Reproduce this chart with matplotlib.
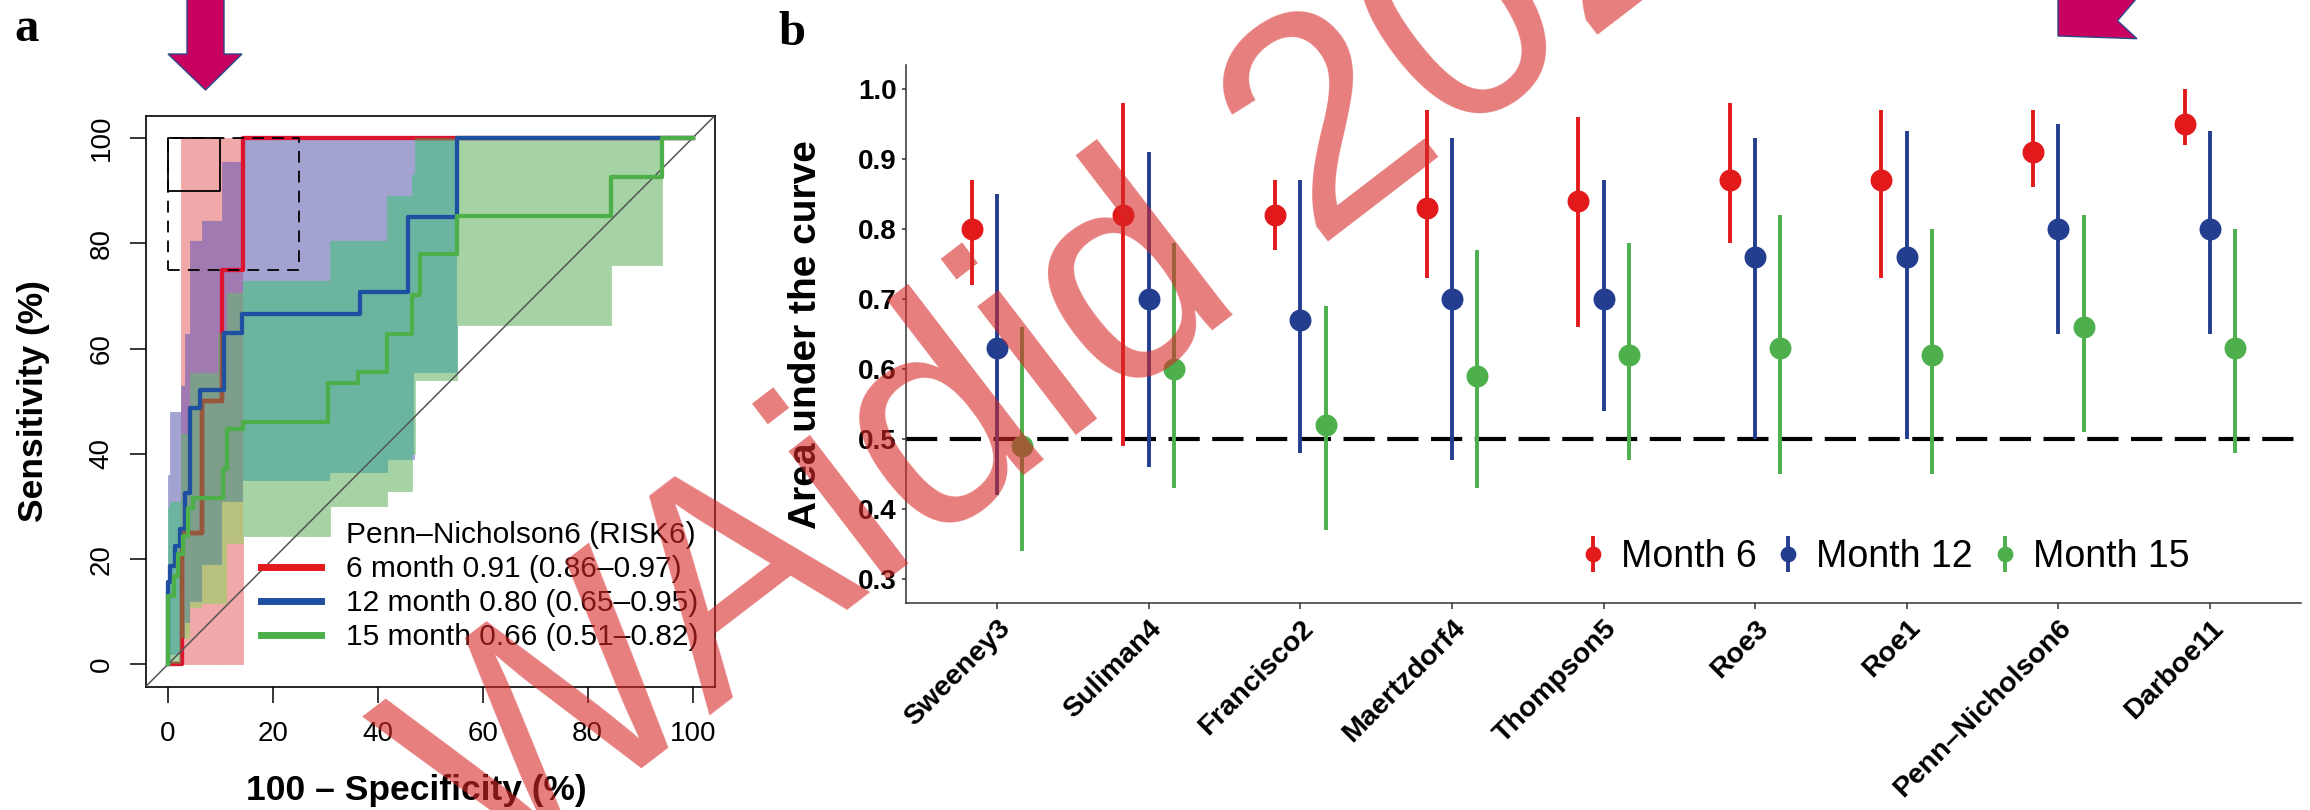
import numpy as np
import matplotlib
matplotlib.use("Agg")
import matplotlib.pyplot as plt
from matplotlib.lines import Line2D
from matplotlib.patches import Polygon
from matplotlib.container import ErrorbarContainer
from matplotlib.legend_handler import HandlerErrorbar

plt.rcParams['font.family'] = ['Liberation Sans', 'DejaVu Sans']

## Panel a: ROC curves of Penn-Nicholson6 (x = 100 - specificity, y = sensitivity)
red_fpr = [0, 2.8, 6.5, 10.3, 14.3, 100]
red_tpr = [0, 25, 50, 75, 100, 100]
blue_fpr = [0, 0, 0.45, 1.4, 2.35, 3.3, 4.25, 6.15, 10.7, 14.2, 36.6, 45.8, 55.2, 100]
blue_tpr = [0, 15.6, 18.7, 22.5, 25.7, 32.6, 48.65, 52.1, 63, 66.5, 70.8, 85, 100, 100]
green_fpr = [0, 0, 1.1, 2.0, 3.0, 3.9, 4.9, 10.6, 11.2, 14.4, 30.6, 36.3, 41.7, 46.5,
             48.05, 55.2, 84.5, 94.2, 100]
green_tpr = [0, 13, 16.8, 21, 24.4, 29.8, 31.7, 37.1, 44.7, 46.0, 53.5, 55.6, 62.7, 70.2,
             77.9, 85.1, 92.6, 100, 100]

# sensitivity confidence bands (segment edges, lower, upper)
red_band_x = [2.5, 14.3]
red_band_lo = [0]
red_band_hi = [100]
blue_band_x = [0, 0.5, 2.5, 3.2, 4.3, 6.5, 10.3, 14.3, 31, 42, 47, 55.2]
blue_band_lo = [0, 2, 5, 8, 12, 19, 31, 35, 36.5, 39, 55.5]
blue_band_hi = [36, 48, 53, 63, 80.6, 84.4, 95.7, 100, 100, 100, 100]
green_band_x = [0, 0.5, 2.5, 4.3, 6.5, 9.6, 11.2, 14.3, 31, 41.7, 46.5, 47.1, 55.2, 84.5, 94.2]
green_band_lo = [0, 0, 5, 11, 11.6, 11.6, 23, 24.4, 30.1, 33, 40, 54, 64.5, 75.8]
green_band_hi = [30, 31, 44, 55.6, 55.6, 63, 70.8, 73, 80.6, 89.1, 93.2, 100, 100, 100]

# partial AUC boxes (x0, x1, y0, y1)
box_solid = (0, 10, 90, 100)
box_dashed = (0, 25, 75, 100)

## Panel b: AUC per signature
signatures = ["Sweeney3", "Suliman4", "Francisco2", "Maertzdorf4", "Thompson5",
              "Roe3", "Roe1", "Penn\u2013Nicholson6", "Darboe11"]
months = [6, 12, 15]
auc_m6 = [0.80, 0.82, 0.82, 0.83, 0.84, 0.87, 0.87, 0.91, 0.95]
lo_m6 = [0.72, 0.49, 0.77, 0.73, 0.66, 0.78, 0.73, 0.86, 0.92]
hi_m6 = [0.87, 0.98, 0.87, 0.97, 0.96, 0.98, 0.97, 0.97, 1.00]
auc_m12 = [0.63, 0.70, 0.67, 0.70, 0.70, 0.76, 0.76, 0.80, 0.80]
lo_m12 = [0.42, 0.46, 0.48, 0.47, 0.54, 0.50, 0.50, 0.65, 0.65]
hi_m12 = [0.85, 0.91, 0.87, 0.93, 0.87, 0.93, 0.94, 0.95, 0.94]
auc_m15 = [0.49, 0.60, 0.52, 0.59, 0.62, 0.63, 0.62, 0.66, 0.63]
lo_m15 = [0.34, 0.43, 0.37, 0.43, 0.47, 0.45, 0.45, 0.51, 0.48]
hi_m15 = [0.66, 0.78, 0.69, 0.77, 0.78, 0.82, 0.80, 0.82, 0.80]

RED, BLUE, GREEN = '#E41A1C', '#1F4FA0', '#4DAF4A'
PT_RED, PT_BLUE, PT_GREEN = '#E31A1C', '#233E8F', '#4DB04D'

# shade of every overlap of the (red, blue, green) bands
band_shades = {(1, 0, 0): '#F0A8A8', (0, 1, 0): '#A3A3D2', (0, 0, 1): '#A6D3A4',
               (1, 1, 0): '#A07AB0', (0, 1, 1): '#6BB5A0', (1, 0, 1): '#B8C27E',
               (1, 1, 1): '#7C9E8A'}

W, H = 2310, 810
fig = plt.figure(figsize=(W/100, H/100), dpi=100)

def px_axes(l, t, r, b, **kw):
    return fig.add_axes([l/W, 1-b/H, (r-l)/W, (b-t)/H], **kw)

def draw_bands(ax, bands, z):
    '''Fill the step bands, giving each overlap its own shade.'''
    edges = sorted(set(x for b in bands for x in b[0]))
    for x0, x1 in zip(edges[:-1], edges[1:]):
        xm = (x0 + x1) / 2
        spans = []
        for bx, lo, hi in bands:
            i = np.searchsorted(bx, xm) - 1
            spans.append((lo[i], hi[i]) if 0 <= i < len(lo) else None)
        ys = sorted(set(v for s in spans if s for v in s))
        for y0, y1 in zip(ys[:-1], ys[1:]):
            ym = (y0 + y1) / 2
            key = tuple(int(s is not None and s[0] <= ym <= s[1]) for s in spans)
            if any(key):
                c = band_shades[key]
                ax.fill_between([x0, x1], y0, y1, facecolor=c, edgecolor=c, lw=0.6,
                                zorder=z)

# ---------------- panel a
axA = px_axes(145.7, 115.8, 714.7, 686.6)
draw_bands(axA, [(red_band_x, red_band_lo, red_band_hi),
                 (blue_band_x, blue_band_lo, blue_band_hi),
                 (green_band_x, green_band_lo, green_band_hi)], 1)
axA.plot(red_fpr, red_tpr, drawstyle='steps-post', color='#DC1430', lw=3.1, zorder=2)
# the red curve looks brown where it runs under the green band
gpoly = axA.fill_between(green_band_x, green_band_lo + [green_band_lo[-1]],
                         green_band_hi + [green_band_hi[-1]], step='post', alpha=0, lw=0)
brown, = axA.plot(red_fpr, red_tpr, drawstyle='steps-post', color='#96573A', lw=3.1,
                  zorder=2.5)
brown.set_clip_path(gpoly.get_paths()[0], axA.transData)

axA.plot([-10, 110], [-10, 110], color='#555555', lw=1.1, zorder=5)
axA.plot(blue_fpr, blue_tpr, drawstyle='steps-post', color=BLUE, lw=3.1, zorder=6)
axA.plot(green_fpr, green_tpr, drawstyle='steps-post', color=GREEN, lw=3.1, zorder=7)

for bx, ls in ((box_solid, '-'), (box_dashed, (0, (6.5, 4.5)))):
    x0, x1, y0, y1 = bx
    axA.plot([x0, x1, x1, x0, x0], [y0, y0, y1, y1, y0], color='black', lw=1.3,
             ls=ls, zorder=8)

axA.set_xlim(-4.2, 104.2)
axA.set_ylim(-4.2, 104.2)
axA.set_xticks(range(0, 101, 20))
axA.set_yticks(range(0, 101, 20))
axA.tick_params(length=11.5, width=1.1, labelsize=20)
axA.tick_params(axis='x', pad=13)
axA.tick_params(axis='y', pad=11, labelrotation=90)
for lbl in axA.get_yticklabels():
    lbl.set_va('center')
for s in axA.spines.values():
    s.set_linewidth(1.2)
axA.set_xlabel('100 \u2013 Specificity (%)', fontsize=25.5, fontweight='bold', labelpad=20)
axA.xaxis.label.set_x(0.475)
axA.set_ylabel('Sensitivity (%)', fontsize=25.5, fontweight='bold', labelpad=28)

pn = signatures.index("Penn\u2013Nicholson6")
leg_labels = ["Penn\u2013Nicholson6 (RISK6)"]
for m, a, l, h in zip(months, (auc_m6, auc_m12, auc_m15), (lo_m6, lo_m12, lo_m15),
                      (hi_m6, hi_m12, hi_m15)):
    leg_labels.append(f"{m} month {a[pn]:.2f} ({l[pn]:.2f}\u2013{h[pn]:.2f})")
leg_handles = [Line2D([], [], color='none')] + \
    [Line2D([], [], color=c, lw=5) for c in (RED, BLUE, GREEN)]
axA.legend(leg_handles, leg_labels, loc='lower right', bbox_to_anchor=(0.972, 0.062),
           frameon=False, fontsize=21.5, handlelength=2.0, handletextpad=0.85,
           labelspacing=0.2, borderpad=0, borderaxespad=0)

# ---------------- panel b
axB = px_axes(906, 65, 2301, 603.3)
xs = np.arange(1, len(signatures) + 1)
axB.axhline(0.5, color='black', lw=3, dashes=(7.5, 3), zorder=1)
series = [(auc_m6, lo_m6, hi_m6, PT_RED, -1/6),
          (auc_m12, lo_m12, hi_m12, PT_BLUE, 0),
          (auc_m15, lo_m15, hi_m15, PT_GREEN, 1/6)]
for (a, l, h, c, off), m in zip(series, months):
    a, l, h = map(np.array, (a, l, h))
    axB.errorbar(xs + off, a, yerr=[a - l, h - a], fmt='o', color=c, ms=14.8,
                 elinewidth=2.8, capsize=0, label=f"Month {m}", zorder=3)

axB.set_xlim(0.4, 9.6)
axB.set_ylim(0.265, 1.035)
for side in ('top', 'right'):
    axB.spines[side].set_visible(False)
for side in ('left', 'bottom'):
    axB.spines[side].set_linewidth(1.1)
    axB.spines[side].set_color('#333333')
yt = np.round(np.arange(0.3, 1.01, 0.1), 1)
axB.set_yticks(yt)
axB.set_yticklabels([f"{v:.1f}" for v in yt], fontweight='bold', fontsize=20)
axB.set_xticks(xs)
axB.set_xticklabels(signatures, rotation=45, ha='right', va='top',
                    rotation_mode='anchor', fontweight='bold', fontsize=20.5)
axB.tick_params(axis='y', length=3.2, width=1.1, color='#333333', pad=3.6)
axB.tick_params(axis='x', length=4.5, width=1.1, color='#333333', pad=4)
axB.set_ylabel('Area under the curve', fontsize=28, fontweight='bold', labelpad=24)
axB.legend(loc='center left', bbox_to_anchor=(0.4814, 0.086), ncol=3, frameon=False,
           fontsize=27, markerscale=0.7, handlelength=0.8, handletextpad=0.35,
           columnspacing=0.45, borderpad=0, borderaxespad=0,
           handler_map={ErrorbarContainer: HandlerErrorbar(xerr_size=0.47)})

# ---------------- panel letters
fig.text(14.5/W, 1 - 41/H, 'a', family='Liberation Serif', fontweight='bold', fontsize=35)
fig.text(778/W, 1 - 45/H, 'b', family='Liberation Serif', fontweight='bold', fontsize=35)

# ---------------- overlay: arrows and watermark
ov = fig.add_axes([0, 0, 1, 1], zorder=10)
ov.set_xlim(0, W)
ov.set_ylim(H, 0)
ov.axis('off')
ov.patch.set_alpha(0)
ov.add_patch(Polygon([(187, -5), (224, -5), (224, 54), (242, 54), (205.5, 90),
                      (168, 54), (187, 54)], closed=True, fc='#C8005F', ec='#2F4A8A', lw=1))
ov.add_patch(Polygon([(2058, -5), (2058, 36), (2137, 38.7), (2117.5, 20.7),
                      (2139.5, -5)], closed=True, fc='#C8005F', ec='#2F4A8A', lw=1))
ov.text(490, 885, 'WAidid 202', rotation=37.5, rotation_mode='anchor', ha='left',
        va='baseline', fontsize=220, color='#D72828', alpha=0.6)

fig.savefig('out.png', dpi=100)
